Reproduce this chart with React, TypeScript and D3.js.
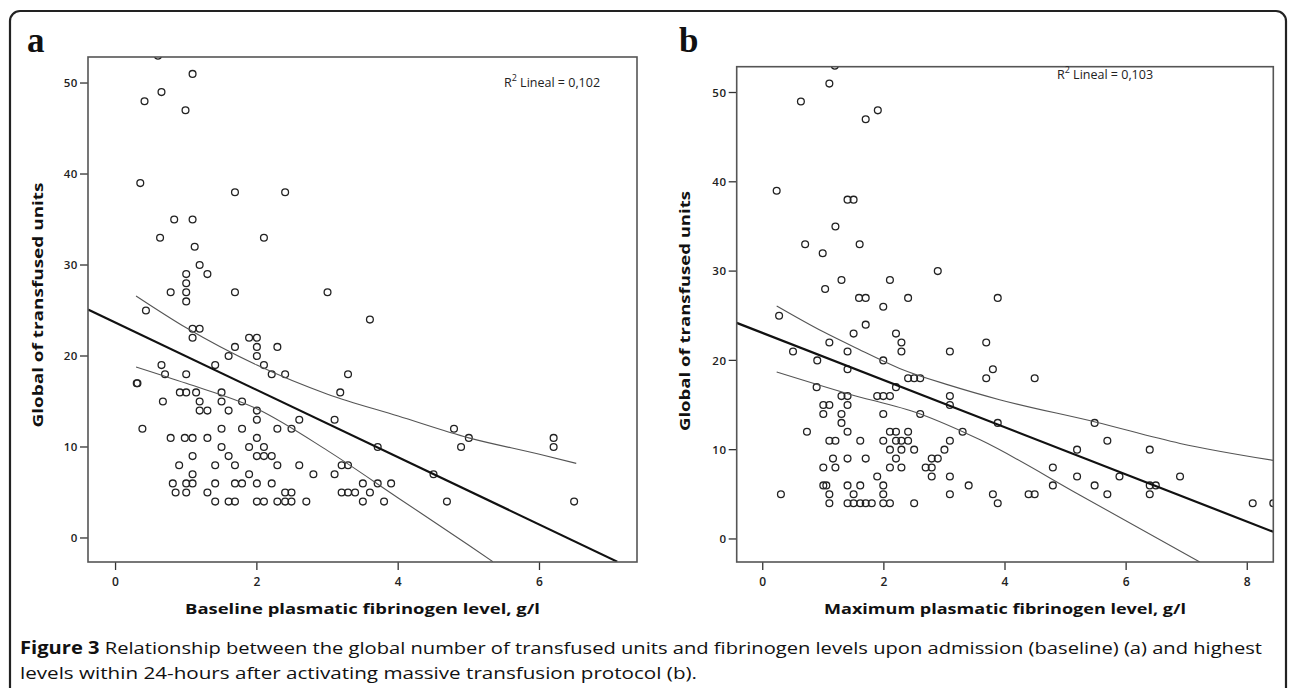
import * as d3 from "d3";

const W = 1290;
const H = 688;

// axis ticks
const yTicks = [0, 10, 20, 30, 40, 50];
const xTicksA = [0, 2, 4, 6];
const xTicksB = [0, 2, 4, 6, 8];

// visible axis ranges
const xRangeA = [-0.39, 7.38];
const xRangeB = [-0.43, 8.43];
const yRangeA = [-2.64, 52.86];
const yRangeB = [-2.58, 52.89];

// panel a: baseline plasmatic fibrinogen (g/l) vs global transfused units
const baselineFib = [
  0.6, 1.09, 0.65, 0.41, 0.99,
  0.35, 1.69, 2.4, 0.83, 1.09, 0.63, 2.1, 1.12, 1.19,
  1.0, 1.3, 1.0, 1.0, 0.78, 1.69, 3.0, 1.0, 0.43, 3.6,
  1.09, 1.19, 1.09, 1.89, 2.0, 1.69, 2.0, 2.29, 2.0, 1.6,
  2.1, 1.41, 0.65, 2.21, 2.4, 0.7, 1.0, 3.29, 0.3, 0.31,
  0.91, 1.0, 1.14, 1.5, 3.18, 0.67, 1.19, 1.5, 1.79,
  1.19, 1.3, 1.6, 2.0, 2.0, 2.6, 3.1,
  0.38, 1.5, 1.79, 2.29, 2.49, 4.79,
  0.78, 0.98, 1.09, 1.3, 2.0, 5.0, 6.2,
  1.5, 1.89, 2.1, 3.71, 4.89, 6.2,
  1.09, 1.6, 2.0, 2.1, 2.21,
  0.9, 1.41, 1.69, 2.29, 2.6, 3.2, 3.29,
  1.09, 1.89, 2.8, 3.1, 4.5,
  0.81, 1.0, 1.09, 1.41, 1.69, 1.79, 2.0, 2.21, 3.5, 3.71, 3.9,
  0.85, 1.0, 1.3, 2.4, 2.49, 3.2, 3.29, 3.39, 3.6,
  1.41, 1.6, 1.69, 2.0, 2.1, 2.29, 2.4, 2.49, 2.7, 3.5, 3.8, 4.69, 6.49,
];
const baselineUnits = [
  53, 51, 49, 48, 47,
  39, 38, 38, 35, 35, 33, 33, 32, 30,
  29, 29, 28, 27, 27, 27, 27, 26, 25, 24,
  23, 23, 22, 22, 22, 21, 21, 21, 20, 20,
  19, 19, 19, 18, 18, 18, 18, 18, 17, 17,
  16, 16, 16, 16, 16, 15, 15, 15, 15,
  14, 14, 14, 14, 13, 13, 13,
  12, 12, 12, 12, 12, 12,
  11, 11, 11, 11, 11, 11, 11,
  10, 10, 10, 10, 10, 10,
  9, 9, 9, 9, 9,
  8, 8, 8, 8, 8, 8, 8,
  7, 7, 7, 7, 7,
  6, 6, 6, 6, 6, 6, 6, 6, 6, 6, 6,
  5, 5, 5, 5, 5, 5, 5, 5, 5,
  4, 4, 4, 4, 4, 4, 4, 4, 4, 4, 4, 4, 4,
];

// panel b: maximum plasmatic fibrinogen (g/l) vs global transfused units
const maxFib = [
  1.19, 1.1, 0.63, 1.9, 1.7,
  0.23, 1.4, 1.5, 1.2, 0.7, 1.6, 0.99, 2.89,
  1.3, 2.1, 1.03, 1.59, 1.7, 2.4, 3.88, 1.99, 0.27, 1.7,
  1.5, 2.2, 1.1, 2.29, 3.69, 0.5, 1.4, 2.29, 3.09, 0.9, 1.99,
  1.4, 3.8, 2.4, 2.5, 2.6, 3.69, 4.49, 0.89, 2.2,
  1.3, 1.4, 1.89, 1.99, 2.1, 3.09,
  1.0, 1.1, 1.4, 3.09,
  1.0, 1.3, 1.99, 2.6,
  1.3, 3.88, 5.48,
  0.73, 1.4, 2.1, 2.2, 2.4, 3.3,
  1.1, 1.2, 1.61, 1.99, 2.2, 2.29, 2.4, 3.09, 5.69,
  2.1, 2.29, 2.5, 3.0, 5.19, 6.39,
  1.16, 1.4, 1.7, 2.2, 2.79, 2.89,
  1.0, 1.2, 2.1, 2.29, 2.69, 2.79, 4.79,
  1.89, 2.79, 3.09, 5.19, 5.89, 6.89,
  1.0, 1.05, 1.4, 1.61, 1.99, 3.4, 4.79, 5.48, 6.39, 6.49,
  0.3, 1.1, 1.5, 1.99, 3.09, 3.8, 4.39, 4.49, 5.69, 6.39,
  1.1, 1.4, 1.5, 1.61, 1.7, 1.8, 1.99, 2.1, 2.5, 3.88, 8.09, 8.43,
];
const maxUnits = [
  53, 51, 49, 48, 47,
  39, 38, 38, 35, 33, 33, 32, 30,
  29, 29, 28, 27, 27, 27, 27, 26, 25, 24,
  23, 23, 22, 22, 22, 21, 21, 21, 21, 20, 20,
  19, 19, 18, 18, 18, 18, 18, 17, 17,
  16, 16, 16, 16, 16, 16,
  15, 15, 15, 15,
  14, 14, 14, 14,
  13, 13, 13,
  12, 12, 12, 12, 12, 12,
  11, 11, 11, 11, 11, 11, 11, 11, 11,
  10, 10, 10, 10, 10, 10,
  9, 9, 9, 9, 9, 9,
  8, 8, 8, 8, 8, 8, 8,
  7, 7, 7, 7, 7, 7,
  6, 6, 6, 6, 6, 6, 6, 6, 6, 6,
  5, 5, 5, 5, 5, 5, 5, 5, 5, 5,
  4, 4, 4, 4, 4, 4, 4, 4, 4, 4, 4, 4,
];

// linear fit end points and 95% CI of the mean
const fitAX = [-0.39, 7.1];
const fitAY = [25.1, -2.6];
const ciAUpperX = [0.29, 1, 2, 3, 4, 5, 6, 6.52];
const ciAUpperY = [26.6, 23.1, 19.0, 15.8, 13.4, 11.0, 9.2, 8.2];
const ciALowerX = [0.29, 1, 2, 3, 4, 5, 5.34];
const ciALowerY = [18.8, 17.0, 14.2, 9.6, 4.4, -0.8, -2.6];

const fitBX = [-0.43, 8.43];
const fitBY = [24.2, 0.8];
const ciBUpperX = [0.23, 1.0, 1.6, 2.26, 3.09, 3.91, 5.49, 6.89, 8.43];
const ciBUpperY = [26.1, 23.2, 21.2, 19.1, 17.2, 15.6, 13.1, 10.7, 8.8];
const ciBLowerX = [0.23, 1.39, 2.6, 3.59, 5.24, 7.22];
const ciBLowerY = [18.7, 16.3, 14.0, 11.1, 4.9, -2.6];

const SANS = "'Open Sans', 'Noto Sans', sans-serif";

interface PanelProps {
  id: string;
  box: { left: number; top: number; right: number; bottom: number };
  xRange: number[];
  yRange: number[];
  xTicks: number[];
  xs: number[];
  ys: number[];
  fitX: number[];
  fitY: number[];
  upX: number[];
  upY: number[];
  loX: number[];
  loY: number[];
  letter: string;
  letterX: number;
  r2: string;
  r2At: [number, number];
  xTitle: string;
  xTitleLen: number;
  yTitleAt: [number, number];
  yTitleLen: number;
}

function Panel(p: PanelProps) {
  const { box } = p;
  const x = d3.scaleLinear().domain(p.xRange).range([box.left, box.right]);
  const y = d3.scaleLinear().domain(p.yRange).range([box.bottom, box.top]);
  const line = d3
    .line<[number, number]>()
    .x((d) => x(d[0]))
    .y((d) => y(d[1]))
    .curve(d3.curveMonotoneX);
  const straight = d3
    .line<[number, number]>()
    .x((d) => x(d[0]))
    .y((d) => y(d[1]));
  const zip = (a: number[], b: number[]) => a.map((v, i) => [v, b[i]] as [number, number]);
  const cx = (box.left + box.right) / 2;

  return (
    <g>
      <defs>
        <clipPath id={`clip-${p.id}`}>
          <rect x={box.left} y={box.top} width={box.right - box.left} height={box.bottom - box.top} />
        </clipPath>
      </defs>

      <text
        x={p.letterX}
        y={52}
        fontFamily="'Liberation Serif', 'Times New Roman', serif"
        fontWeight="bold"
        fontSize={35}
        fill="#111"
      >
        {p.letter}
      </text>

      {/* y axis */}
      {yTicks.map((t) => (
        <g key={t}>
          <line x1={box.left - 8} x2={box.left} y1={y(t)} y2={y(t)} stroke="#333" strokeWidth={1.3} />
          <text
            x={box.left - 10}
            y={y(t)}
            dy="0.36em"
            textAnchor="end"
            fontFamily={SANS}
            fontWeight={600}
            fontSize={11.5}
            letterSpacing={0.6}
            fill="#222"
          >
            {t}
          </text>
        </g>
      ))}

      {/* x axis */}
      {p.xTicks.map((t) => (
        <g key={t}>
          <line x1={x(t)} x2={x(t)} y1={box.bottom} y2={box.bottom + 8} stroke="#333" strokeWidth={1.3} />
          <text
            x={x(t)}
            y={box.bottom + 24}
            textAnchor="middle"
            fontFamily={SANS}
            fontWeight={600}
            fontSize={12}
            fill="#222"
          >
            {t}
          </text>
        </g>
      ))}

      <g clipPath={`url(#clip-${p.id})`}>
        {p.xs.map((v, i) => (
          <circle key={i} cx={x(v)} cy={y(p.ys[i])} r={3.4} fill="none" stroke="#222" strokeWidth={1.3} />
        ))}
        <path d={line(zip(p.upX, p.upY)) ?? ""} fill="none" stroke="#555" strokeWidth={1.1} />
        <path d={line(zip(p.loX, p.loY)) ?? ""} fill="none" stroke="#555" strokeWidth={1.1} />
        <path d={straight(zip(p.fitX, p.fitY)) ?? ""} fill="none" stroke="#111" strokeWidth={2.2} />
      </g>

      <rect
        x={box.left}
        y={box.top}
        width={box.right - box.left}
        height={box.bottom - box.top}
        fill="none"
        stroke="#555"
        strokeWidth={1.6}
      />

      <text x={p.r2At[0]} y={p.r2At[1]} fontFamily={SANS} fontSize={12.5} fill="#222">
        R<tspan dy={-6} fontSize={9}>2</tspan>
        <tspan dy={6}>{"  Lineal = " + p.r2}</tspan>
      </text>

      <text
        x={cx}
        y={box.bottom + 52}
        textAnchor="middle"
        fontFamily={SANS}
        fontWeight="bold"
        fontSize={15}
        textLength={p.xTitleLen}
        lengthAdjust="spacingAndGlyphs"
        fill="#111"
      >
        {p.xTitle}
      </text>

      <text
        transform={`translate(${p.yTitleAt[0]},${p.yTitleAt[1]}) rotate(-90)`}
        textAnchor="middle"
        fontFamily={SANS}
        fontWeight="bold"
        fontSize={15}
        textLength={p.yTitleLen}
        lengthAdjust="spacingAndGlyphs"
        fill="#111"
      >
        Global of transfused units
      </text>
    </g>
  );
}

export default function App() {
  return (
    <div style={{ position: "absolute", left: 0, top: 0, background: "#fff" }}>
      <svg width={W} height={H} viewBox={`0 0 ${W} ${H}`} style={{ display: "block" }}>
        <rect width={W} height={H} fill="#fff" />
        <rect x={10} y={11} width={1276} height={720} rx={10} fill="none" stroke="#222" strokeWidth={2.2} />

        <Panel
          id="a"
          box={{ left: 88, top: 57, right: 637, bottom: 562 }}
          xRange={xRangeA}
          yRange={yRangeA}
          xTicks={xTicksA}
          xs={baselineFib}
          ys={baselineUnits}
          fitX={fitAX}
          fitY={fitAY}
          upX={ciAUpperX}
          upY={ciAUpperY}
          loX={ciALowerX}
          loY={ciALowerY}
          letter="a"
          letterX={27}
          r2="0,102"
          r2At={[504, 87]}
          xTitle="Baseline plasmatic fibrinogen level, g/l"
          xTitleLen={355}
          yTitleAt={[43, 305]}
          yTitleLen={245}
        />
        <Panel
          id="b"
          box={{ left: 736.7, top: 66.7, right: 1273.3, bottom: 562 }}
          xRange={xRangeB}
          yRange={yRangeB}
          xTicks={xTicksB}
          xs={maxFib}
          ys={maxUnits}
          fitX={fitBX}
          fitY={fitBY}
          upX={ciBUpperX}
          upY={ciBUpperY}
          loX={ciBLowerX}
          loY={ciBLowerY}
          letter="b"
          letterX={679}
          r2="0,103"
          r2At={[1057, 79]}
          xTitle="Maximum plasmatic fibrinogen level, g/l"
          xTitleLen={362}
          yTitleAt={[690, 311]}
          yTitleLen={240}
        />

        <text
          x={20}
          y={654}
          fontFamily={SANS}
          fontSize={17}
          fill="#111"
          textLength={1242}
          lengthAdjust="spacingAndGlyphs"
        >
          <tspan fontWeight="bold">Figure 3</tspan>
          {" Relationship between the global number of transfused units and fibrinogen levels upon admission (baseline) (a) and highest"}
        </text>
        <text
          x={20}
          y={679}
          fontFamily={SANS}
          fontSize={17}
          fill="#111"
          textLength={677}
          lengthAdjust="spacingAndGlyphs"
        >
          levels within 24-hours after activating massive transfusion protocol (b).
        </text>
      </svg>
    </div>
  );
}
